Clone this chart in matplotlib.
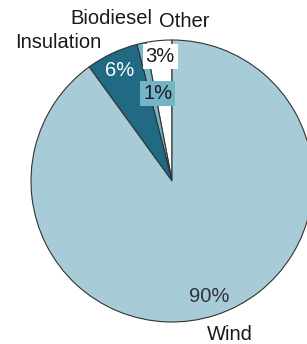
import numpy as np
import matplotlib.pyplot as plt

plt.rcParams['font.family'] = ['Liberation Sans', 'DejaVu Sans']

# data, counterclockwise from 12 o'clock
labels = ['Other', 'Biodiesel', 'Insulation', 'Wind']
shares = [3, 1, 6, 90]
colors = ['#ffffff', '#74b4c6', '#206a84', '#a7ccd8']

# label placement per slice
pct_dist = [0.89, 0.63, 0.87, 0.86]
pct_box = ['#ffffff', '#74b4c6', None, None]
pct_color = ['#1a1a1a', '#1a1a1a', '#ffffff', '#333333']
name_pos = [(-0.09, 1.13, 'left'), (-0.43, 1.155, 'center'),
            (-0.50, 0.985, 'right'), (0.41, -1.09, 'center')]

fig = plt.figure(figsize=(3.07, 3.44), dpi=100)
ax = fig.add_axes([0, 0, 1, 1])

wedges, _ = ax.pie(shares, colors=colors, startangle=90, counterclock=True,
                   wedgeprops=dict(edgecolor='#333333', linewidth=0.8))

for w, share, d, box, tc in zip(wedges, shares, pct_dist, pct_box, pct_color):
    mid = np.deg2rad((w.theta1 + w.theta2) / 2)
    if share == 1:
        mid = np.deg2rad(w.theta1 - 1.5)
    x, y = d * np.cos(mid), d * np.sin(mid)
    bbox = dict(boxstyle='square,pad=0.15', fc=box, ec='none') if box else None
    ax.text(x, y, f'{share}%', ha='center', va='center', fontsize=14.5,
            color=tc, bbox=bbox)

for name, (x, y, ha) in zip(labels, name_pos):
    ax.text(x, y, name, ha=ha, va='center', fontsize=14.5, color='#1a1a1a')

ax.set_aspect('auto')
ax.set_xlim(-172 / 141, 135 / 141)
ax.set_ylim(-163 / 141, 181 / 141)
ax.axis('off')

fig.savefig('out.png', dpi=100)
